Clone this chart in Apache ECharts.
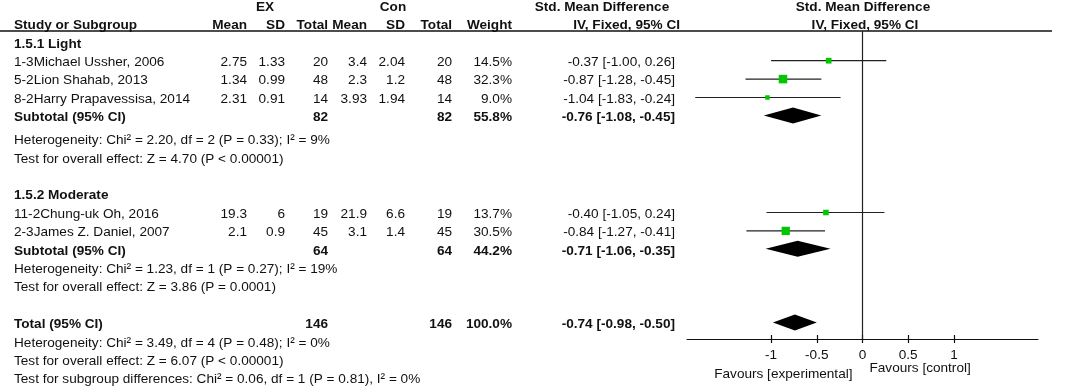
<!DOCTYPE html>
<html>
<head>
<meta charset="utf-8">
<script src="https://cdn.jsdelivr.net/npm/echarts@6/dist/echarts.min.js"></script>
<style>
  html, body { margin: 0; padding: 0; background: #fff; }
  #forest { width: 1072px; height: 391px; }
</style>
</head>
<body>
<div id="forest"></div>
<script>
/*
    森林图 - Std. Mean Difference, IV, Fixed, 95% CI
*/

// 1.1 studies
const studyNames = ['1-3Michael Ussher, 2006', '5-2Lion Shahab, 2013', '8-2Harry Prapavessisa, 2014', '11-2Chung-uk Oh, 2016', '2-3James Z. Daniel, 2007']
const studyGroup = [0, 0, 0, 1, 1]
const exMean = ['2.75', '1.34', '2.31', '19.3', '2.1']
const exSD = ['1.33', '0.99', '0.91', '6', '0.9']
const exTotal = [20, 48, 14, 19, 45]
const conMean = ['3.4', '2.3', '3.93', '21.9', '3.1']
const conSD = ['2.04', '1.2', '1.94', '6.6', '1.4']
const conTotal = [20, 48, 14, 19, 45]
const weights = [14.5, 32.3, 9.0, 13.7, 30.5]
const smd = [-0.37, -0.87, -1.04, -0.40, -0.84]
const ciLow = [-1.00, -1.28, -1.83, -1.05, -1.27]
const ciHigh = [0.26, -0.45, -0.24, 0.24, -0.41]

// 1.2 subgroups
const groupNames = ['1.5.1 Light', '1.5.2 Moderate']
const subExTotal = [82, 64]
const subConTotal = [82, 64]
const subWeight = [55.8, 44.2]
const subSmd = [-0.76, -0.71]
const subLow = [-1.08, -1.06]
const subHigh = [-0.45, -0.35]
const subHetero = ['Heterogeneity: Chi² = 2.20, df = 2 (P = 0.33); I² = 9%', 'Heterogeneity: Chi² = 1.23, df = 1 (P = 0.27); I² = 19%']
const subEffect = ['Test for overall effect: Z = 4.70 (P < 0.00001)', 'Test for overall effect: Z = 3.86 (P = 0.0001)']

// 1.3 total
const totalEx = 146
const totalCon = 146
const totalWeight = 100.0
const totalSmd = -0.74
const totalLow = -0.98
const totalHigh = -0.50
const totalNotes = ['Heterogeneity: Chi² = 3.49, df = 4 (P = 0.48); I² = 0%', 'Test for overall effect: Z = 6.07 (P < 0.00001)', 'Test for subgroup differences: Chi² = 0.06, df = 1 (P = 0.81), I² = 0%']

// 1.4 axis
const tickValues = [-1, -0.5, 0, 0.5, 1]

// 行位置 (row units) 与列位置 (px)
const studyRows = [3, 4, 5, 11.25, 12.25]
const groupRows = [2, 10.25]
const subtotalRows = [6, 13.25]
const heteroRows = [7.25, 14.25]
const effectRows = [8.25, 15.25]
const totalRows = [17.25, 18.25, 19.25, 20.25]
const col = { study: 14, exMean: 247, exSD: 285, exTotal: 328, conMean: 367, conSD: 405, conTotal: 452, weight: 512, ci: 675 }

const FONT = "'Liberation Sans', Arial, sans-serif"
const FONT_SIZE = 13.6
const TEXT = '#111'

function fmt2(v) { return v.toFixed(2) }
function ciText(e, l, h) { return fmt2(e) + ' [' + fmt2(l) + ', ' + fmt2(h) + ']' }

// 表格文字
const cells = []
function cell(x, row, text, align, bold) { cells.push({ x, row, text: String(text), align, bold: !!bold }) }

cell(265, 0, 'EX', 'center', true)
cell(393, 0, 'Con', 'center', true)
cell(602, 0, 'Std. Mean Difference', 'center', true)
cell(863, 0, 'Std. Mean Difference', 'center', true)
cell(col.study, 1, 'Study or Subgroup', 'left', true)
cell(col.exMean, 1, 'Mean', 'right', true)
cell(col.exSD, 1, 'SD', 'right', true)
cell(col.exTotal, 1, 'Total', 'right', true)
cell(col.conMean, 1, 'Mean', 'right', true)
cell(col.conSD, 1, 'SD', 'right', true)
cell(col.conTotal, 1, 'Total', 'right', true)
cell(col.weight, 1, 'Weight', 'right', true)
cell(680, 1, 'IV, Fixed, 95% CI', 'right', true)
cell(865, 1, 'IV, Fixed, 95% CI', 'center', true)

groupNames.forEach((g, gi) => {
    cell(col.study, groupRows[gi], g, 'left', true)
    cell(col.study, subtotalRows[gi], 'Subtotal (95% CI)', 'left', true)
    cell(col.exTotal, subtotalRows[gi], subExTotal[gi], 'right', true)
    cell(col.conTotal, subtotalRows[gi], subConTotal[gi], 'right', true)
    cell(col.weight, subtotalRows[gi], subWeight[gi].toFixed(1) + '%', 'right', true)
    cell(col.ci, subtotalRows[gi], ciText(subSmd[gi], subLow[gi], subHigh[gi]), 'right', true)
    cell(col.study, heteroRows[gi], subHetero[gi], 'left')
    cell(col.study, effectRows[gi], subEffect[gi], 'left')
})

studyNames.forEach((s, i) => {
    const r = studyRows[i]
    cell(col.study, r, s, 'left')
    cell(col.exMean, r, exMean[i], 'right')
    cell(col.exSD, r, exSD[i], 'right')
    cell(col.exTotal, r, exTotal[i], 'right')
    cell(col.conMean, r, conMean[i], 'right')
    cell(col.conSD, r, conSD[i], 'right')
    cell(col.conTotal, r, conTotal[i], 'right')
    cell(col.weight, r, weights[i].toFixed(1) + '%', 'right')
    cell(col.ci, r, ciText(smd[i], ciLow[i], ciHigh[i]), 'right')
})

cell(col.study, totalRows[0], 'Total (95% CI)', 'left', true)
cell(col.exTotal, totalRows[0], totalEx, 'right', true)
cell(col.conTotal, totalRows[0], totalCon, 'right', true)
cell(col.weight, totalRows[0], totalWeight.toFixed(1) + '%', 'right', true)
cell(col.ci, totalRows[0], ciText(totalSmd, totalLow, totalHigh), 'right', true)
totalNotes.forEach((t, k) => cell(col.study, totalRows[k + 1], t, 'left'))

// 图形数据
const studyData = smd.map((v, i) => [v, ciLow[i], ciHigh[i], studyRows[i], weights[i]])
const diamondData = subSmd.map((v, i) => [v, subLow[i], subHigh[i], subtotalRows[i]])
diamondData.push([totalSmd, totalLow, totalHigh, totalRows[0]])

function renderStudy(params, api) {
    const y = api.coord([0, api.value(3)])[1] - 1.5
    const x0 = api.coord([api.value(1), 0])[0]
    const x1 = api.coord([api.value(2), 0])[0]
    const xm = api.coord([api.value(0), 0])[0]
    const s = 1.5 * Math.sqrt(api.value(4))
    return {
        type: 'group',
        children: [
            { type: 'line', shape: { x1: x0, y1: y, x2: x1, y2: y }, style: { stroke: '#222', lineWidth: 1.2 } },
            { type: 'rect', shape: { x: xm - s / 2, y: y - s / 2, width: s, height: s }, style: { fill: '#00c800' } }
        ]
    }
}

function renderDiamond(params, api) {
    const y = api.coord([0, api.value(3)])[1] - 2
    const x0 = api.coord([api.value(1), 0])[0]
    const x1 = api.coord([api.value(2), 0])[0]
    const xm = api.coord([api.value(0), 0])[0]
    const h = 8
    return {
        type: 'polygon',
        shape: { points: [[x0, y], [xm, y - h], [x1, y], [xm, y + h]] },
        style: { fill: '#000' }
    }
}

function renderCell(params, api) {
    const c = cells[params.dataIndex]
    const p = api.coord([c.x, c.row])
    return {
        type: 'text',
        x: p[0],
        y: p[1],
        style: {
            text: c.text,
            align: c.align,
            verticalAlign: 'middle',
            fontSize: FONT_SIZE,
            fontFamily: FONT,
            fontWeight: c.bold ? 'bold' : 'normal',
            fill: TEXT
        }
    }
}

function initChart() {
    const myChart = echarts.init(document.getElementById('forest'), null, { renderer: 'canvas' })

    const axisFont = { fontSize: FONT_SIZE, fontFamily: FONT, color: TEXT }

    const option = {
        animation: false,
        backgroundColor: '#fff',
        grid: [
            { left: 0, right: 0, top: 0, bottom: 0 },
            { left: 687, right: 34, top: 31, bottom: 52 }
        ],
        xAxis: [
            { gridIndex: 0, type: 'value', min: 0, max: 1072, show: false },
            {
                gridIndex: 1, type: 'value', min: -1.92, max: 1.92, position: 'bottom',
                axisLine: { show: true, onZero: false, lineStyle: { color: TEXT, width: 1.2 } },
                axisTick: { show: true, inside: true, length: 4, customValues: tickValues, lineStyle: { color: TEXT, width: 1.2 } },
                axisLabel: { show: true, customValues: tickValues, margin: 9, ...axisFont },
                splitLine: { show: false },
                name: 'Favours [experimental]',
                nameLocation: 'middle',
                nameGap: 22,
                nameTextStyle: { ...axisFont, align: 'right', padding: [0, 10, 0, 0] }
            },
            {
                gridIndex: 1, type: 'value', min: -1.92, max: 1.92, position: 'bottom',
                axisLine: { show: false },
                axisTick: { show: true, inside: false, length: 4, customValues: tickValues, lineStyle: { color: TEXT, width: 1.2 } },
                axisLabel: { show: false },
                splitLine: { show: false },
                name: 'Favours [control]',
                nameLocation: 'middle',
                nameGap: 22,
                nameTextStyle: { ...axisFont, align: 'left', padding: [0, 0, 0, 7] }
            }
        ],
        yAxis: [
            { gridIndex: 0, type: 'value', min: -0.38, max: 20.87, inverse: true, show: false },
            { gridIndex: 1, type: 'value', min: 1.304, max: 18.043, inverse: true, show: false }
        ],
        series: [
            {
                type: 'custom',
                xAxisIndex: 0,
                yAxisIndex: 0,
                silent: true,
                renderItem: renderCell,
                encode: { x: 0, y: 1 },
                data: cells.map(c => [c.x, c.row]),
                markLine: {
                    silent: true,
                    symbol: 'none',
                    label: { show: false },
                    lineStyle: { color: '#111', width: 1.6, type: 'solid' },
                    data: [[{ coord: [0, 1.304] }, { coord: [1052, 1.304] }]]
                }
            },
            {
                type: 'custom',
                xAxisIndex: 1,
                yAxisIndex: 1,
                silent: true,
                renderItem: renderStudy,
                encode: { x: [0, 1, 2], y: 3 },
                data: studyData,
                markLine: {
                    silent: true,
                    symbol: 'none',
                    label: { show: false },
                    lineStyle: { color: '#222', width: 1.2, type: 'solid' },
                    data: [{ xAxis: 0 }]
                }
            },
            {
                type: 'custom',
                xAxisIndex: 1,
                yAxisIndex: 1,
                silent: true,
                renderItem: renderDiamond,
                encode: { x: [0, 1, 2], y: 3 },
                data: diamondData
            }
        ]
    }

    option && myChart.setOption(option, true)
}

initChart()
</script>
</body>
</html>
